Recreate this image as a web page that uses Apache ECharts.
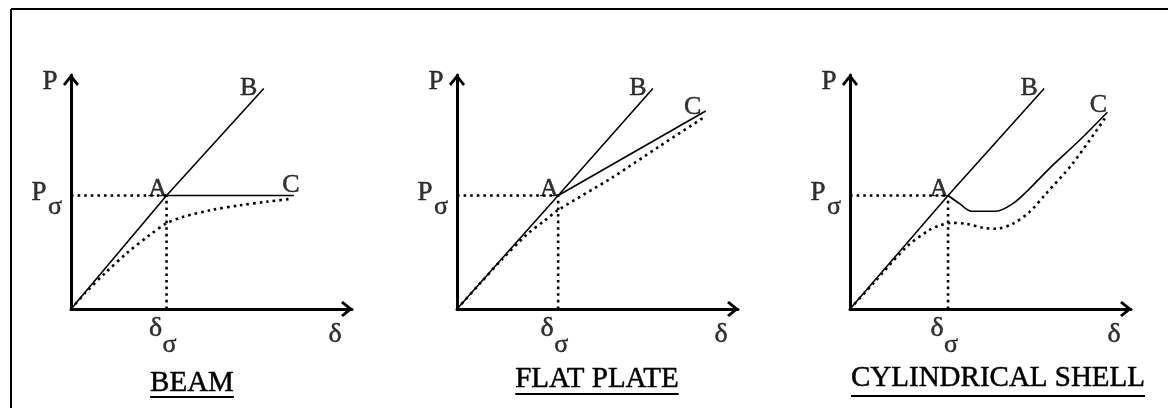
<!DOCTYPE html>
<html>
<head>
<meta charset="utf-8">
<script src="https://cdn.jsdelivr.net/npm/echarts@6/dist/echarts.min.js"></script>
<style>
  html, body { margin: 0; padding: 0; background: #fff; }
  #chart { width: 1168px; height: 408px; }
</style>
</head>
<body>
<div id="chart"></div>
<script>
// Load (P) versus deflection (δ) for three structural forms.
// Both axes run from 0 to 100 in normalised units.
const structures = ['BEAM', 'FLAT PLATE', 'CYLINDRICAL SHELL'];

// Buckling point A = (δσ, Pσ) of each structure
const deltaSigma = [34.0, 36.0, 34.9];
const pSigma = [48.5, 48.5, 48.5];

// Far end B of the fundamental (unbuckled) path O–A–B
const pathBEnd = [[68.6, 94.2], [69.7, 94.2], [69.1, 94.2]];

// Post-buckling path A–C of the perfect structure
const beamPathC = [[34.0, 48.5], [79.3, 48.5]];
const platePathC = [[36.0, 48.5], [88.5, 84.6]];
const shellPathC = [[34.9, 48.5], [39.0, 45.0], [43.2, 41.8], [52.0, 41.8], [57.9, 45.0],
                    [62.6, 49.9], [72.0, 61.3], [81.6, 72.0], [91.6, 84.1]];

// Response of the imperfect structure (dotted curve)
const beamImperfect = [[0, 0], [5, 6.8], [12, 15.2], [20, 24.0], [28, 31.6], [34, 36.6],
                       [40, 39.4], [50, 42.3], [60, 44.3], [70, 45.9], [78.5, 47.1]];
const plateImperfect = [[0, 0], [8, 10.7], [16, 21.2], [25, 32.0], [31, 37.6], [36, 42.3],
                        [55, 56.0], [72, 69.5], [88, 82.0]];
const shellImperfect = [[0, 0], [8.3, 11.0], [20.1, 26.5], [28, 33.6], [31.9, 35.7], [36.1, 36.8],
                        [41.4, 36.4], [47.3, 34.7], [52.0, 34.3], [57.9, 36.4], [63.8, 41.4],
                        [69.7, 49.2], [79.2, 62.1], [91.0, 82.0]];

const pathsC = [beamPathC, platePathC, shellPathC];
const imperfect = [beamImperfect, plateImperfect, shellImperfect];

// ---- layout & styling ----
const FONT = '"Liberation Serif", "Times New Roman", serif';
const gridLeft = [71, 457, 850];
const GRID_TOP = 75, GRID_W = 281, GRID_H = 234;
// open chevron arrow head, pointing up in its own frame
const ARROW = 'path://M8,0 L16,10 L14,12 L8,4.5 L2,12 L0,10 Z';
// label offsets for the end letter C (differs per panel)
const cOffset = [[-3, -10], [-13, -4], [-9, -7]];
const titleLayout = [
  { x: 192, y: 383, underline: 397 },
  { x: 597, y: 379, underline: 394 },
  { x: 998, y: 378, underline: 396 }
];

const grids = [], xAxes = [], yAxes = [], series = [];

function axisCommon(i) {
  return {
    gridIndex: i, type: 'value', min: 0, max: 100,
    axisLine: {
      show: true, onZero: false,
      symbol: ['none', ARROW], symbolSize: [16, 12], symbolOffset: [0, -5],
      lineStyle: { color: '#000', width: 3 }
    },
    axisTick: { show: false }, axisLabel: { show: false }, splitLine: { show: false }
  };
}

const solid = { color: '#000', width: 1.6 };
const dotted = { color: '#000', width: 2.6, type: [2.6, 4.0] };

function lbl(value, text, offset, size) {
  return {
    value: value,
    label: { show: true, formatter: text, offset: offset, fontSize: size }
  };
}

structures.forEach((name, i) => {
  grids.push({ left: gridLeft[i], top: GRID_TOP, width: GRID_W, height: GRID_H });
  xAxes.push(axisCommon(i));
  yAxes.push(axisCommon(i));

  const A = [deltaSigma[i], pSigma[i]];
  const lineBase = { type: 'line', xAxisIndex: i, yAxisIndex: i, symbol: 'none', silent: true, z: 3 };

  // guide lines to the buckling point
  series.push(Object.assign({}, lineBase, { data: [[0, pSigma[i]], A], lineStyle: dotted }));
  series.push(Object.assign({}, lineBase, { data: [[deltaSigma[i], 0], A], lineStyle: dotted }));
  // fundamental path O–A–B
  series.push(Object.assign({}, lineBase, { data: [[0, 0], A, pathBEnd[i]], lineStyle: solid }));
  // post-buckling path A–C
  series.push(Object.assign({}, lineBase, {
    data: pathsC[i], lineStyle: solid, smooth: i === 2 ? 0.3 : false
  }));
  // imperfect structure
  series.push(Object.assign({}, lineBase, {
    data: imperfect[i], lineStyle: dotted, smooth: 0.3
  }));

  // letters and symbols
  const cEnd = pathsC[i][pathsC[i].length - 1];
  series.push({
    type: 'scatter', xAxisIndex: i, yAxisIndex: i, silent: true, z: 5,
    symbolSize: 1, itemStyle: { color: 'transparent' },
    label: {
      show: true, position: 'inside', color: '#000', fontFamily: FONT,
      align: 'center', verticalAlign: 'middle',
      textBorderColor: '#000', textBorderWidth: 0.5
    },
    data: [
      lbl(A, 'A', [-9, -6], 26),
      lbl(pathBEnd[i], 'B', [-15, 0], 26),
      lbl(cEnd, 'C', cOffset[i], 26),
      lbl([0, 100], 'P', [-21, 7], 27),
      lbl([0, pSigma[i]], 'P', [-32, -3], 27),
      lbl([0, pSigma[i]], 'σ', [-16, 12], 26),
      lbl([deltaSigma[i], 0], 'δ', [-11, 20], 28),
      lbl([deltaSigma[i], 0], 'σ', [3, 36], 26),
      lbl([100, 0], 'δ', [-17, 26], 28)
    ]
  });
});

// structure names, underlined
const measure = document.createElement('canvas').getContext('2d');
measure.font = '29px ' + FONT;
const graphics = [
  // frame
  { type: 'line', shape: { x1: 11, y1: 9, x2: 1168, y2: 9 }, style: { stroke: '#000', lineWidth: 2 } },
  { type: 'line', shape: { x1: 11, y1: 9, x2: 11, y2: 408 }, style: { stroke: '#000', lineWidth: 2 } }
];
structures.forEach((name, i) => {
  const t = titleLayout[i];
  const w = measure.measureText(name).width;
  graphics.push({
    type: 'text', x: t.x, y: t.y,
    style: {
      text: name, font: '29px ' + FONT, fill: '#000', align: 'center', verticalAlign: 'middle',
      stroke: '#000', lineWidth: 0.5
    }
  });
  graphics.push({
    type: 'rect', shape: { x: t.x - w / 2, y: t.underline - 1, width: w, height: 2 },
    style: { fill: '#000' }
  });
});

const chart = echarts.init(document.getElementById('chart'), null, { renderer: 'canvas' });
chart.setOption({
  animation: false,
  backgroundColor: '#fff',
  grid: grids,
  xAxis: xAxes,
  yAxis: yAxes,
  series: series,
  graphic: graphics
});
</script>
</body>
</html>
